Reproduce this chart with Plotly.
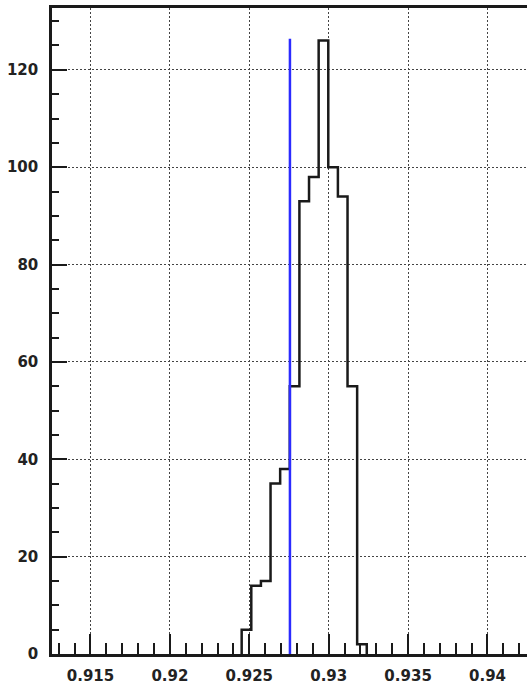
import plotly.graph_objects as go

# ---- data ----
bin_start = 0.92452
bin_width = 0.000606
counts = [5, 14, 15, 35, 38, 55, 93, 98, 126, 100, 94, 55, 2]
marker_x = 0.92756
marker_top = 126.4
x_tickvals = [0.915, 0.92, 0.925, 0.93, 0.935, 0.94]
x_ticktext = ["0.915", "0.92", "0.925", "0.93", "0.935", "0.94"]
y_tickvals = [0, 20, 40, 60, 80, 100, 120]
y_ticktext = ["0", "20", "40", "60", "80", "100", "120"]

edges = [bin_start + i * bin_width for i in range(len(counts) + 1)]
hx = [edges[0]] + edges
hy = [0] + counts + [0]

W, H = 527, 689
L, T, B = 52, 8, 35

fig = go.Figure()
fig.add_trace(go.Scatter(x=hx, y=hy, mode="lines", line=dict(color="#1a1a1a", width=2.5, shape="hv"),
                         showlegend=False, hoverinfo="skip"))
fig.add_trace(go.Scatter(x=[marker_x, marker_x], y=[0, marker_top], mode="lines",
                         line=dict(color="#2b2bff", width=2.5), showlegend=False, hoverinfo="skip"))

font = dict(family="DejaVu Sans", size=15, color="#222", weight="bold")
fig.update_layout(
    width=W, height=H,
    margin=dict(l=L, r=0, t=T, b=B, pad=0),
    paper_bgcolor="white", plot_bgcolor="white",
    font=font,
    xaxis=dict(range=[0.912576, 0.942488], tickmode="array", tickvals=x_tickvals, ticktext=x_ticktext,
               ticks="inside", ticklen=20, tickwidth=2, tickcolor="#1a1a1a",
               minor=dict(ticks="inside", ticklen=11, tickwidth=2, tickcolor="#1a1a1a", dtick=0.001,
                          tick0=0.915, showgrid=False),
               showline=True, linecolor="#1a1a1a", linewidth=2.5, mirror=True,
               showgrid=True, gridcolor="#444", gridwidth=1, griddash="2px,2px",
               zeroline=False, tickfont=font, ticklabelstandoff=6),
    yaxis=dict(range=[0, 132.7], tickmode="array", tickvals=y_tickvals, ticktext=y_ticktext,
               ticks="inside", ticklen=15, tickwidth=2, tickcolor="#1a1a1a",
               minor=dict(ticks="inside", ticklen=7, tickwidth=2, tickcolor="#1a1a1a", dtick=5,
                          tick0=0, showgrid=False),
               showline=True, linecolor="#1a1a1a", linewidth=2.5, mirror=False,
               showgrid=True, gridcolor="#444", gridwidth=1, griddash="2px,2px",
               zeroline=False, tickfont=font, ticklabelstandoff=8),
)
fig.write_html("out.html")
